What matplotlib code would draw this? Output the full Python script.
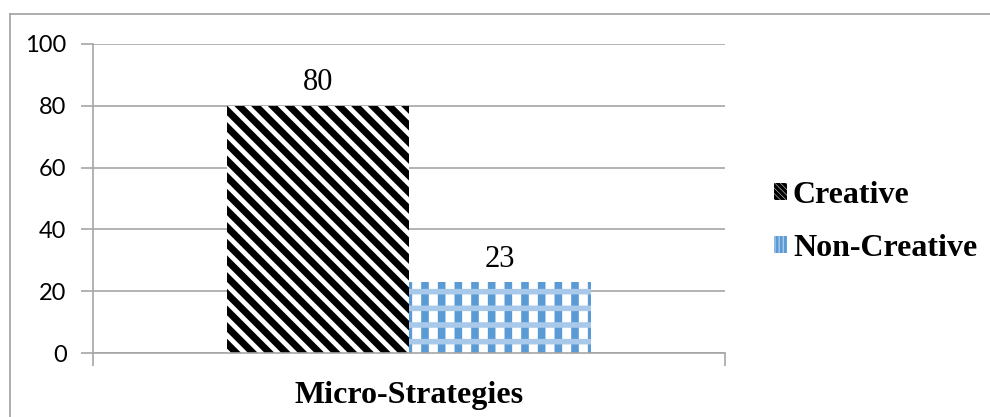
import matplotlib.pyplot as plt
from matplotlib.patches import Patch
from matplotlib.lines import Line2D

series = ['Creative', 'Non-Creative']
values = [80, 23]
category = 'Micro-Strategies'
yticks = [0, 20, 40, 60, 80, 100]

plt.rcParams['hatch.linewidth'] = 5.0
fig = plt.figure(figsize=(9.9, 4.17), dpi=100)
ax = fig.add_axes([93/990, 1 - 353/417, (725 - 93)/990, (353 - 44)/417])

grid_c = '#A6A6A6'
blue = '#5B9BD5'
light_blue = '#A9C9EA'
w = 0.288
b1 = ax.bar(-w/2, values[0], w, color='white', edgecolor='black', hatch='\\\\', linewidth=0)
# checkered look: thick vertical columns plus thinner light horizontal bands
b2 = ax.bar(w/2, values[1], w, color='white', edgecolor=blue, hatch='|', linewidth=0,
            hatch_linewidth=5.5)
ax.bar(w/2, values[1], w, color='none', edgecolor=light_blue, hatch='-', linewidth=0,
       hatch_linewidth=4.0)
for bars in (b1, b2):
    ax.bar_label(bars, labels=[str(v) for v in bars.datavalues], padding=6,
                 fontsize=22, family='Liberation Serif')

ax.set_xlim(-0.5, 0.5)
ax.set_ylim(0, 100)
ax.set_yticks(yticks)
ax.set_yticklabels([str(t) for t in yticks], fontsize=17, family='Lato')
ax.yaxis.grid(True, color=grid_c, linewidth=1.2)
ax.set_axisbelow(True)
ax.set_xticks([-0.5, 0.5])
ax.set_xticklabels(['', ''])
ax.set_xticks([0], minor=True)
ax.set_xticklabels([category], minor=True, fontsize=23, fontweight='bold', family='Liberation Serif')
ax.tick_params(axis='x', which='minor', length=0, pad=20)
ax.tick_params(axis='x', which='major', length=9, color=grid_c, width=1.2)
ax.tick_params(axis='y', length=9, color=grid_c, width=1.2, pad=10)
for s in ['top', 'right']:
    ax.spines[s].set_visible(False)
for s in ['left', 'bottom']:
    ax.spines[s].set_color(grid_c)
    ax.spines[s].set_linewidth(1.2)

handles = [Patch(facecolor='white', edgecolor='black', hatch='\\\\\\\\\\\\', linewidth=0),
           Patch(facecolor=light_blue, edgecolor=blue, hatch='||||', linewidth=0)]
leg = fig.legend(handles, series, loc='center left', bbox_to_anchor=(745/990, 1 - 222/417),
                 frameon=False, handlelength=0.4, handleheight=0.45, handletextpad=0.2,
                 labelspacing=0.75, prop={'family': 'Liberation Serif', 'weight': 'bold', 'size': 23})
leg.legend_handles[0].set_hatch_linewidth(2.5)
leg.legend_handles[1].set_hatch_linewidth(2.0)

fig.add_artist(Line2D([10/990, 10/990], [0, 1 - 14/417], color='#A0A0A0', linewidth=1.2))
fig.add_artist(Line2D([10/990, 1], [1 - 14/417, 1 - 14/417], color='#A0A0A0', linewidth=1.2))

fig.savefig('out.png', dpi=100)
